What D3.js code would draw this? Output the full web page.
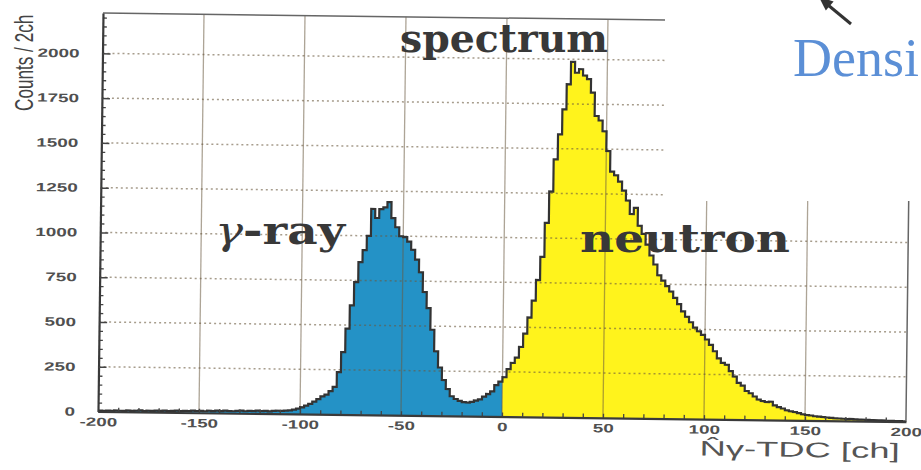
<!DOCTYPE html>
<html>
<head>
<meta charset="utf-8">
<script src="https://cdn.jsdelivr.net/npm/d3@7"></script>
<style>
  body { margin: 0; background: #fff; }
  svg { display: block; }
</style>
</head>
<body>
<div id="chart"></div>
<script>
// histogram bins, 2 ch wide
var binWidth = 2;

// gamma part: bins from -200 to 0 ch
var gammaStart = -200;
var gammaCounts = [
  5, 4, 6, 5, 7, 6, 5, 8, 6, 7, 9, 6, 8, 7, 9, 8, 10, 7, 9, 11, 8, 10, 9, 12, 10,
  11, 9, 12, 10, 13, 11, 14, 12, 11, 13, 15, 12, 14, 13, 16, 14, 15, 13, 16, 17,
  16, 18, 20, 24, 30,
  38, 48, 58, 70, 85, 100, 110, 130, 154, 237,
  349, 480, 610, 740, 852, 920, 1000, 1150, 1100, 1150,
  1160, 1190, 1100, 1050, 1000, 995, 970, 925, 870, 800,
  690, 600, 480, 360, 270, 200, 150, 110, 95, 85,
  78, 76, 80, 88, 95, 110, 125, 140, 175, 195
];

// neutron part: bins from 0 to 200 ch
var neutronStart = 0;
var neutronCounts = [
  220, 265, 300, 330, 390, 465, 555, 650, 765, 895,
  1085, 1260, 1440, 1580, 1720, 1860, 1985, 1925, 1945, 1910,
  1890, 1815, 1685, 1660, 1600, 1490, 1375, 1355, 1320, 1270,
  1215, 1140, 1175, 1075, 1030, 970, 910, 860, 800, 770,
  740, 710, 675, 640, 600, 570, 540, 510, 490, 470,
  445, 415, 380, 340, 315, 305, 270, 240, 205, 190,
  160, 148, 130, 113, 105, 100, 102, 82, 72, 65,
  55, 50, 46, 40, 34, 30, 28, 24, 22, 20,
  18, 16, 14, 13, 12, 10, 11, 9, 8, 8,
  7, 6, 6, 5, 5, 4, 4, 3, 3, 2
];

var xTicks = [-200, -150, -100, -50, 0, 50, 100, 150, 200];
var xGrid = [-150, -100, -50, 0, 50, 100, 150];
var yTicks = [0, 250, 500, 750, 1000, 1250, 1500, 1750, 2000];

var svg = d3.select("#chart")
  .append("svg")
    .attr("width", 921)
    .attr("height", 470);

// the scanned plot is tilted a little
var g = svg.append("g")
  .attr("transform", "rotate(0.72,98,411.5)");

var x = d3.scaleLinear().domain([-200, 200]).range([98, 906]);
var y = d3.scaleLinear().domain([0, 2225]).range([411.5, 13]);

function steps(start, counts) {
  var pts = counts.map(function(c, i) { return {ch: start + i * binWidth, n: c}; });
  pts.push({ch: start + counts.length * binWidth, n: counts[counts.length - 1]});
  return pts;
}

var area = d3.area()
  .curve(d3.curveStepAfter)
  .x(function(d) { return x(d.ch); })
  .y0(y(0))
  .y1(function(d) { return y(d.n); });

var line = d3.line()
  .curve(d3.curveStepAfter)
  .x(function(d) { return x(d.ch); })
  .y(function(d) { return y(d.n); });

g.append("path")
  .datum(steps(gammaStart, gammaCounts))
  .attr("d", area)
  .attr("fill", "#2492c6");

g.append("path")
  .datum(steps(neutronStart, neutronCounts))
  .attr("d", area)
  .attr("fill", "#fff31c");

// grid, see-through so it tints over the fills
g.selectAll(".vgrid")
  .data(xGrid)
  .join("line")
    .attr("x1", function(d) { return x(d); })
    .attr("x2", function(d) { return x(d); })
    .attr("y1", y(0))
    .attr("y2", y(2225))
    .attr("stroke", "#6a5a40")
    .attr("stroke-opacity", 0.55)
    .attr("stroke-width", 1.3);

g.selectAll(".hgrid")
  .data(yTicks.slice(1))
  .join("line")
    .attr("x1", x(-200))
    .attr("x2", x(200))
    .attr("y1", function(d) { return y(d); })
    .attr("y2", function(d) { return y(d); })
    .attr("stroke", "#6a5a40")
    .attr("stroke-opacity", 0.6)
    .attr("stroke-width", 1.5)
    .attr("stroke-dasharray", "2,3");

// histogram outline
g.append("path")
  .datum(steps(gammaStart, gammaCounts.concat(neutronCounts)))
  .attr("d", line)
  .attr("fill", "none")
  .attr("stroke", "#333")
  .attr("stroke-width", 2.2);

// frame top and right
g.append("path")
  .attr("d", "M" + x(-200) + "," + y(2225) + "H" + x(200) + "V" + y(0))
  .attr("fill", "none")
  .attr("stroke", "#666")
  .attr("stroke-width", 1.5);

function labelWidth(s) {
  return s.split("").reduce(function(w, c) { return w + (c === "-" ? 6 : 10.5); }, 0);
}
var plain = function(d) { return String(d); };

// y axis
g.append("g")
  .attr("transform", "translate(" + x(-200) + ",0)")
  .call(d3.axisLeft(y).tickValues(d3.range(0, 2201, 50).filter(function(v) { return v % 250; }))
    .tickSize(-4).tickFormat(""))
  .call(function(a) { a.select(".domain").remove(); a.selectAll("line").attr("stroke", "#444").attr("stroke-width", 1.3); });

var yAxis = g.append("g")
  .attr("transform", "translate(" + x(-200) + ",0)")
  .call(d3.axisLeft(y).tickValues(yTicks).tickFormat(plain).tickSizeInner(-8).tickSizeOuter(0).tickPadding(23));
yAxis.select(".domain").attr("stroke", "#3a3a3a").attr("stroke-width", 2.2);
yAxis.selectAll("line").attr("stroke", "#444").attr("stroke-width", 1.5);
yAxis.selectAll("text")
  .attr("font-family", "Liberation Sans, Arial, sans-serif")
  .attr("font-weight", "bold")
  .attr("font-size", 12)
  .attr("fill", "#505050")
  .attr("textLength", function(d) { return labelWidth(String(d)); })
  .attr("lengthAdjust", "spacingAndGlyphs");

// x axis
g.append("g")
  .attr("transform", "translate(0," + y(0) + ")")
  .call(d3.axisBottom(x).tickValues(d3.range(-190, 200, 10)).tickSize(-4).tickFormat(""))
  .call(function(a) { a.select(".domain").remove(); a.selectAll("line").attr("stroke", "#444").attr("stroke-width", 1.3); });

var xAxis = g.append("g")
  .attr("transform", "translate(0," + y(0) + ")")
  .call(d3.axisBottom(x).tickValues(xTicks).tickFormat(plain).tickSizeInner(0).tickSizeOuter(0).tickPadding(6));
xAxis.select(".domain").attr("stroke", "#3a3a3a").attr("stroke-width", 2.2);
xAxis.selectAll("text")
  .attr("font-family", "Liberation Sans, Arial, sans-serif")
  .attr("font-weight", "bold")
  .attr("font-size", 12)
  .attr("fill", "#505050")
  .attr("textLength", function(d) { return labelWidth(String(d)); })
  .attr("lengthAdjust", "spacingAndGlyphs");

// axis titles
g.append("text")
  .attr("x", 700)
  .attr("y", 448)
  .attr("font-family", "Liberation Sans, Arial, sans-serif")
  .attr("font-size", 21)
  .attr("fill", "#555")
  .attr("textLength", 200)
  .attr("lengthAdjust", "spacingAndGlyphs")
  .text("N\u0302\u03b3-TDC [ch]");

// condensed look: squeeze the y title along its run
svg.append("text")
  .attr("transform", "translate(33,111) rotate(-90) scale(0.66,1)")
  .attr("font-family", "Liberation Sans, Arial, sans-serif")
  .attr("font-size", 26)
  .attr("fill", "#444")
  .text("Counts / 2ch");

// slide overlay on the top right corner
svg.append("rect")
  .attr("x", 665).attr("y", 0)
  .attr("width", 256).attr("height", 201)
  .attr("fill", "#fff");

// labels on the plot
function bigLabel(txt, px, py, len) {
  return svg.append("text")
    .attr("x", px)
    .attr("y", py)
    .attr("font-family", "DejaVu Serif, serif")
    .attr("font-weight", "bold")
    .attr("font-size", 40)
    .attr("fill", "#383838")
    .attr("textLength", len)
    .attr("lengthAdjust", "spacingAndGlyphs")
    .text(txt);
}
bigLabel("spectrum", 400, 52, 208);
bigLabel("neutron", 580, 252, 210);

var gam = svg.append("text")
  .attr("x", 215)
  .attr("y", 244)
  .attr("font-family", "DejaVu Serif, serif")
  .attr("font-size", 40)
  .attr("fill", "#383838")
  .attr("textLength", 130)
  .attr("lengthAdjust", "spacingAndGlyphs");
gam.append("tspan").attr("font-style", "italic").text("\u03b3");
gam.append("tspan").attr("font-weight", "bold").text("-ray");

svg.append("text")
  .attr("x", 793)
  .attr("y", 76)
  .attr("font-family", "Liberation Serif, Times New Roman, serif")
  .attr("font-size", 54)
  .attr("fill", "#5b8fd6")
  .text("Densi");

svg.append("line")
  .attr("x1", 851).attr("y1", 24)
  .attr("x2", 828).attr("y2", 5)
  .attr("stroke", "#333")
  .attr("stroke-width", 3);
svg.append("path")
  .attr("d", "M819,-3L833.6,1.4L825.8,10.6Z")
  .attr("fill", "#333");
</script>
</body>
</html>
